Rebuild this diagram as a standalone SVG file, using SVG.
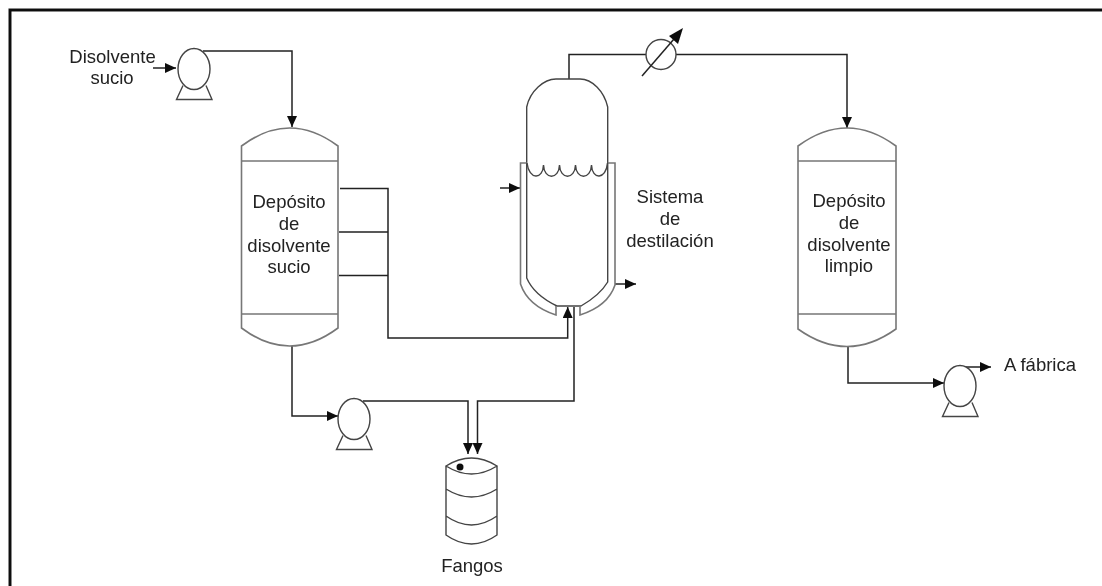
<svg xmlns="http://www.w3.org/2000/svg" width="1102" height="586" viewBox="0 0 1102 586">
<style>
text{font-family:"Liberation Sans",Arial,sans-serif;font-size:18.500px;fill:#222;text-anchor:middle}
.v{fill:none;stroke:#444;stroke-width:1.4}
.g{fill:none;stroke:#777;stroke-width:1.6}
.p{fill:none;stroke:#222;stroke-width:1.5}
</style>
<defs>
<filter id="soft" x="0" y="0" width="100%" height="100%" filterUnits="userSpaceOnUse"><feGaussianBlur stdDeviation="0.35"/></filter>
<marker id="a" markerUnits="userSpaceOnUse" markerWidth="12" markerHeight="10" refX="11" refY="5" orient="auto"><path d="M0 0L11 5L0 10Z" fill="#111"/></marker>
<g id="pumpShape"><ellipse class="v" cx="0" cy="0" rx="16" ry="20.500"/><path class="v" d="M-11 16.500L-17.500 30.500H18L12 16.500"/></g>
</defs>
<rect width="1102" height="586" fill="#fff"/>
<g filter="url(#soft)">
<path id="frame" d="M10 586V10H1102" fill="none" stroke="#111" stroke-width="3"/>
<g id="connectors">
<path class="p" d="M203 51H292V127" marker-end="url(#a)"/>
<path class="p" d="M153 68H176" marker-end="url(#a)"/>
<path class="p" d="M340 188.500H388V338H567.700V307" marker-end="url(#a)"/>
<path class="p" d="M339 232H388M339 275.500H388"/>
<path class="p" d="M292 346V416H338" marker-end="url(#a)"/>
<path class="p" d="M363 401H468V454" marker-end="url(#a)"/>
<path class="p" d="M574 307V401H477.500V454" marker-end="url(#a)"/>
<path class="p" d="M569 79V54.500H646M676 54.500H847V128" marker-end="url(#a)"/>
<path class="p" d="M848 346V383H944" marker-end="url(#a)"/>
<path class="p" d="M966 367H991" marker-end="url(#a)"/>
<path class="p" d="M500 188H520" marker-end="url(#a)"/>
<path class="p" d="M615 284H636" marker-end="url(#a)"/>
</g>
<g id="pump-1" transform="translate(194 69)"><use href="#pumpShape"/></g>
<g id="pump-2" transform="translate(354 419)"><use href="#pumpShape"/></g>
<g id="pump-3" transform="translate(960 386)"><use href="#pumpShape"/></g>
<g id="label-disolvente"><text x="112.500" y="63">Disolvente</text><text x="112" y="84">sucio</text></g>
<g id="tank-dirty">
<path class="g" d="M241.500 146Q289.500 110 338 146V328Q289.500 364 241.500 328Z"/>
<path class="g" d="M241.500 161H338M241.500 314H338"/>
<text x="289" y="208">Depósito</text><text x="289" y="230">de</text><text x="289" y="252">disolvente</text><text x="289" y="273">sucio</text>
</g>
<g id="tank-clean">
<path class="g" d="M798 146Q847 110 896 146V329Q847 364 798 329Z"/>
<path class="g" d="M798 161H896M798 314H896"/>
<text x="849" y="207">Depósito</text><text x="849" y="229">de</text><text x="849" y="251">disolvente</text><text x="849" y="272">limpio</text>
</g>
<g id="exchanger">
<circle class="v" cx="661" cy="54.500" r="15"/>
<path class="p" d="M642 76L674 39"/>
<path d="M683 28L678 44L669 36Z" fill="#111"/>
</g>
<g id="still">
<path class="v" d="M526.700 278V107C530 91 544 79 556 79H580C592 79 604 91 607.700 107V282Q600 295 581 306H557Q534 295 526.700 278Z"/>
<path class="g" d="M526.700 163H520.500V284Q528 306 556 315V306M607.700 163H615V285Q608 306 580 315V306"/>
<path class="v" d="M527 163C529 180 543 180 543.500 165C544 180 559 180 559.500 165C560 180 575 180 575.500 165C576 180 591 180 591.500 165C592 180 606 180 607.500 163"/>
<text x="670" y="203">Sistema</text><text x="670" y="225">de</text><text x="670" y="247">destilación</text>
</g>
<g id="drum">
<path class="v" d="M446 466Q471.500 450 497 466Q471.500 482 446 466ZM446 466V535Q471.500 553 497 535V466M446 489Q471.500 505 497 489M446 516Q471.500 534 497 516"/>
<circle cx="460" cy="467" r="3.500" fill="#111"/>
<text x="472" y="572">Fangos</text>
</g>
<g id="label-fabrica"><text x="1040" y="371">A fábrica</text></g>
</g>
</svg>
